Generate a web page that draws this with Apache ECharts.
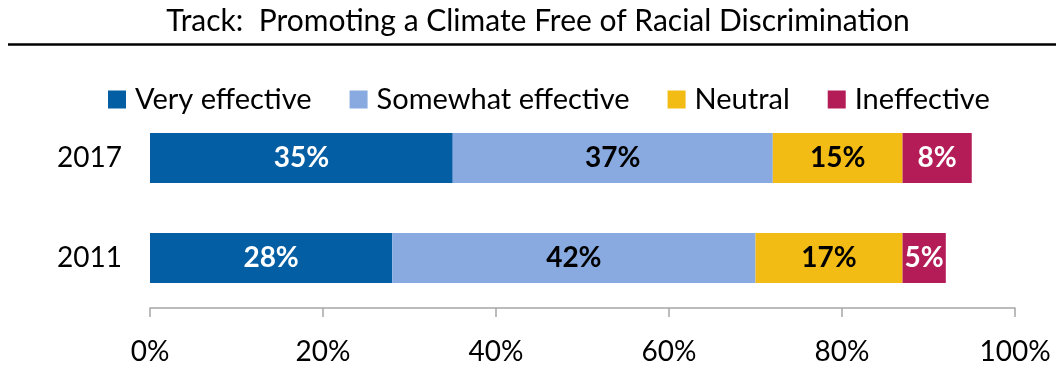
<!DOCTYPE html>
<html>
<head>
<meta charset="utf-8">
<script src="https://cdn.jsdelivr.net/npm/echarts@6/dist/echarts.min.js"></script>
<style>
html,body{margin:0;padding:0;background:#fff;}
#chart{width:1060px;height:366px;}
</style>
</head>
<body>
<div id="chart"></div>
<script>
const titleText = 'Track:  Promoting a Climate Free of Racial Discrimination';
const categories = ['2011', '2017'];
const seriesNames = ['Very effective', 'Somewhat effective', 'Neutral', 'Ineffective'];
const veryEffective = [28, 35];
const somewhatEffective = [42, 37];
const neutral = [17, 15];
const ineffective = [5, 8];
const xTicks = [0, 20, 40, 60, 80, 100];

const colors = ['#035EA3', '#88AAE1', '#F2BC14', '#B41C57'];
const labelColors = ['#ffffff', '#000000', '#000000', '#ffffff'];
const values = [veryEffective, somewhatEffective, neutral, ineffective];
const FONT = 'Lato, "Open Sans", sans-serif';

const chart = echarts.init(document.getElementById('chart'), null, {renderer: 'canvas'});
chart.setOption({
  animation: false,
  backgroundColor: '#ffffff',
  textStyle: {fontFamily: FONT},
  graphic: [
    {type: 'text', x: 538, y: 21, style: {text: titleText, textAlign: 'center', textVerticalAlign: 'middle', fontSize: 30, fontFamily: FONT, fill: '#000'}},
    {type: 'line', shape: {x1: 8, y1: 44.5, x2: 1056, y2: 44.5}, style: {stroke: '#000', lineWidth: 2.5}}
  ],
  legend: {
    left: 103, top: 80,
    icon: 'rect', itemWidth: 18, itemHeight: 18, itemGap: 38,
    textStyle: {fontSize: 29, fontFamily: FONT, color: '#000', padding: [0, 0, 0, 4]},
    data: seriesNames
  },
  grid: {left: 150, right: 45, top: 108, bottom: 56, containLabel: false},
  xAxis: {
    type: 'value', min: xTicks[0], max: xTicks[xTicks.length - 1], interval: 20,
    axisLine: {show: true, lineStyle: {color: '#A6A6A6', width: 1.5}},
    axisTick: {show: true, length: 9, lineStyle: {color: '#A6A6A6', width: 1.5}},
    splitLine: {show: false},
    axisLabel: {formatter: '{value}%', fontSize: 28, fontFamily: FONT, color: '#000', margin: 30}
  },
  yAxis: {
    type: 'category', data: categories,
    axisLine: {show: false}, axisTick: {show: false},
    axisLabel: {fontSize: 28, fontFamily: FONT, color: '#000', margin: 28}
  },
  series: seriesNames.map((name, i) => ({
    name, type: 'bar', stack: 'total', barWidth: 50,
    itemStyle: {color: colors[i]},
    label: {show: true, position: 'inside', formatter: '{c}%', fontSize: 28, fontWeight: 'bold', fontFamily: FONT, color: labelColors[i]},
    data: values[i]
  }))
});
</script>
</body>
</html>
